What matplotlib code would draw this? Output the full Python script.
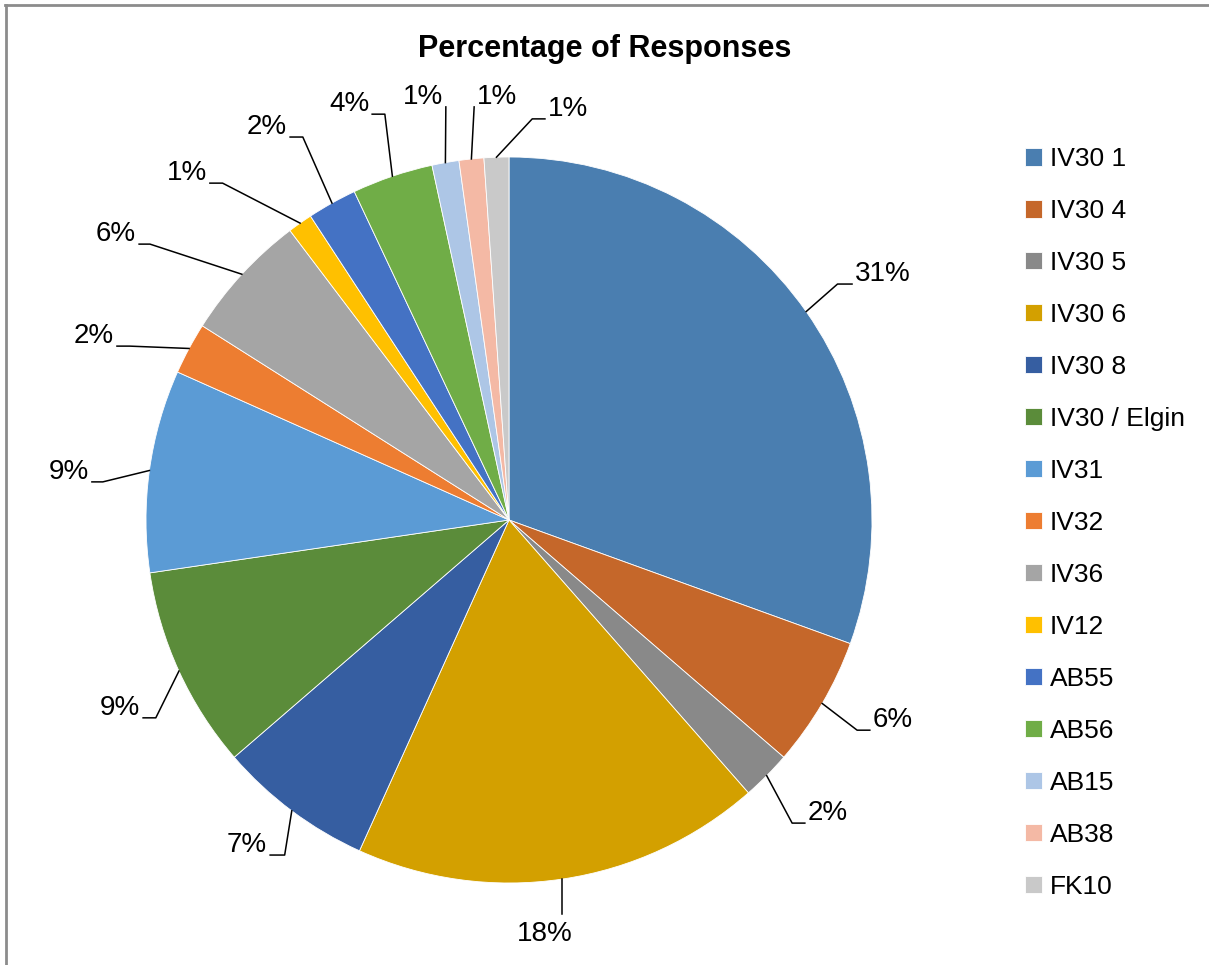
import numpy as np
import matplotlib
matplotlib.use('Agg')
import matplotlib.pyplot as plt
from matplotlib.lines import Line2D

plt.rcParams['font.family'] = ['Liberation Sans Narrow', 'Liberation Sans', 'DejaVu Sans']

# data (share of responses, %)
areas = ['IV30 1', 'IV30 4', 'IV30 5', 'IV30 6', 'IV30 8', 'IV30 / Elgin',
         'IV31', 'IV32', 'IV36', 'IV12', 'AB55', 'AB56', 'AB15', 'AB38', 'FK10']
share = [30.5, 5.8, 2.2, 18.2, 6.9, 9.0, 9.0, 2.3, 5.7, 1.1, 2.2, 3.6, 1.2, 1.1, 1.1]
pct_labels = ['31%', '6%', '2%', '18%', '7%', '9%', '9%', '2%', '6%', '1%',
              '2%', '4%', '1%', '1%', '1%']

colors = ['#4A7EB0', '#C5672A', '#898989', '#D3A000', '#365EA1', '#5B8C3A',
          '#5B9BD5', '#ED7D31', '#A5A5A5', '#FFC000', '#4472C4', '#70AD47',
          '#ADC6E6', '#F4B9A5', '#C9C9C9']

# label layout: end of the leader line (pie radius units), side of text, stub length
anchor = [(0.945, 0.650), (0.994, -0.579), (0.815, -0.835), (0.135, -1.085),
          (-0.658, -0.923), (-1.008, -0.545), (-1.149, 0.105), (-1.080, 0.479),
          (-1.019, 0.760), (-0.824, 0.928), (-0.603, 1.055), (-0.377, 1.118),
          (-0.174, 1.138), (-0.096, 1.138), (0.099, 1.105)]
side = ['R', 'R', 'R', 'B', 'L', 'L', 'L', 'L', 'L', 'L', 'L', 'L', 'L', 'R', 'R']
stub = [0.04, 0.035, 0.035, 0, 0.04, 0.035, 0.03, 0.035, 0.03, 0.035, 0.035, 0.035,
        0, 0, 0.035]

W, H = 1209, 965
cx, cy, R = 509, 520, 363

fig = plt.figure(figsize=(W / 100, H / 100), dpi=100)
ax = fig.add_axes([0, 0, 1, 1])

wedges, _ = ax.pie(share, colors=colors, startangle=90, counterclock=False,
                   wedgeprops=dict(edgecolor='white', linewidth=0.6))
ax.set_xlim(-cx / R, (W - cx) / R)
ax.set_ylim(-(H - cy) / R, cy / R)
ax.set_aspect('auto')
ax.axis('off')

for w, lab, (ax_, ay_), s, st in zip(wedges, pct_labels, anchor, side, stub):
    mid = np.deg2rad((w.theta1 + w.theta2) / 2)
    ex, ey = np.cos(mid), np.sin(mid)
    if s == 'B':
        ax.plot([ex, ex], [ey, ay_], color='black', lw=1.1)
        ax.text(ex - 0.048, ay_ - 0.02, lab, ha='center', va='top', fontsize=20)
        continue
    if s == 'R':
        kx = ax_ - st
        ax.text(ax_ + 0.008, ay_ + 0.027, lab, ha='left', va='center', fontsize=20)
    else:
        kx = ax_ + st
        ax.text(ax_ - 0.008, ay_ + 0.027, lab, ha='right', va='center', fontsize=20)
    ax.plot([ex, kx, ax_], [ey, ay_, ay_], color='black', lw=1.1)

ax.text(0.5, 0.949, 'Percentage of Responses', transform=fig.transFigure,
        ha='center', va='center', fontsize=22, fontweight='bold')

leg = fig.legend(wedges, areas, loc='upper left', bbox_to_anchor=(1012 / W, 1 - 134 / H),
                 frameon=False, fontsize=19, handlelength=0.63, handleheight=0.63,
                 handletextpad=0.3, labelspacing=1.06, borderpad=0)

# chart-area frame (top and left edges visible)
fig.add_artist(Line2D([5 / W, 1], [1 - 4.5 / H, 1 - 4.5 / H], color='#8C8C8C', lw=2,
                      transform=fig.transFigure))
fig.add_artist(Line2D([5.5 / W, 5.5 / W], [0, 1 - 4.5 / H], color='#8C8C8C', lw=2,
                      transform=fig.transFigure))

fig.savefig('out.png', dpi=100)
